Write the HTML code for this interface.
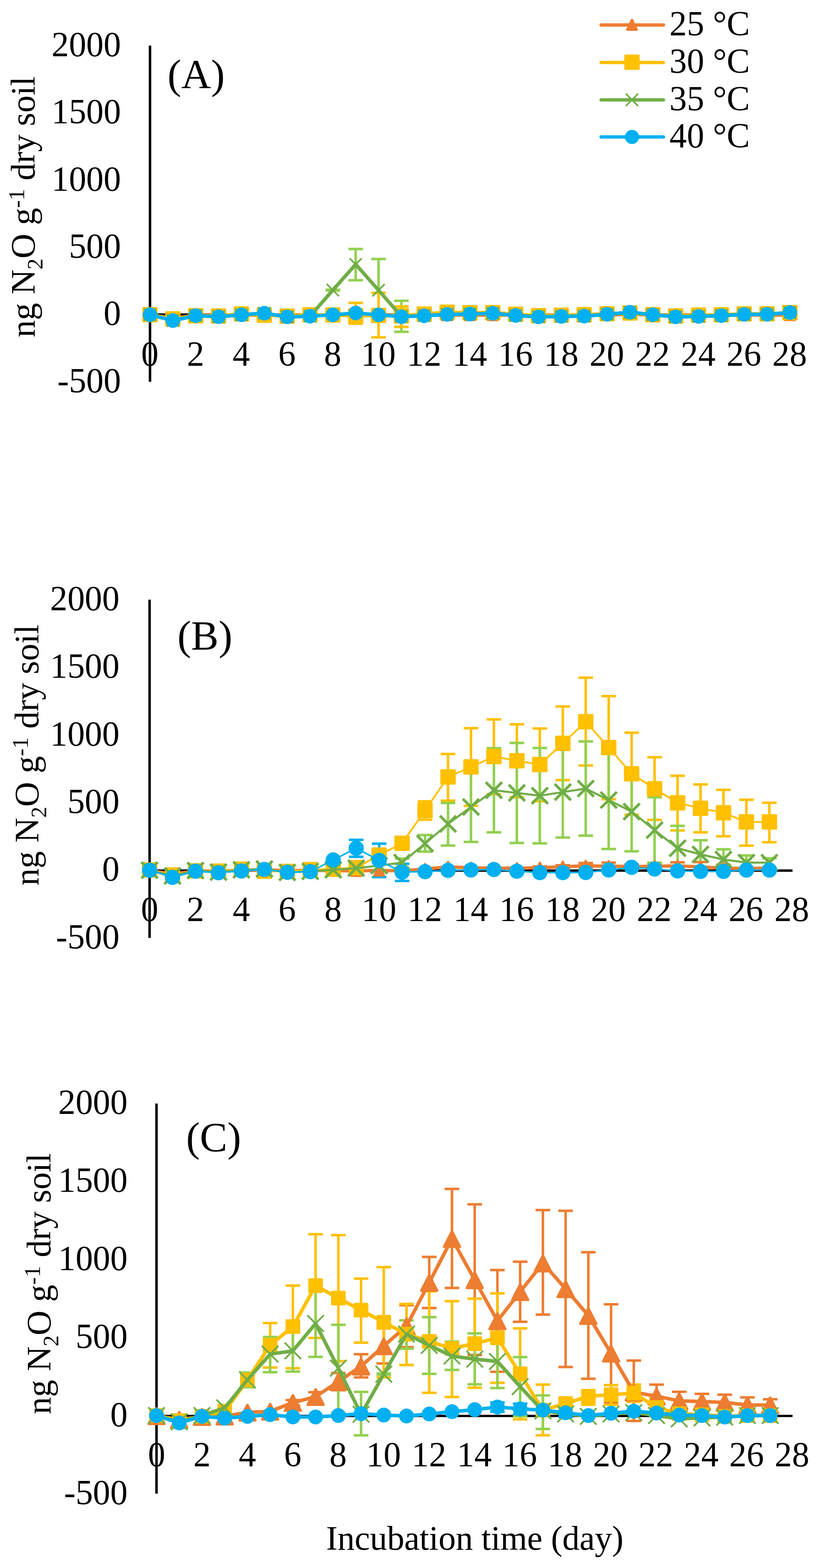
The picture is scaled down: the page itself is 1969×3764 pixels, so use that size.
<!DOCTYPE html>
<html lang="en">
<head>
<meta charset="utf-8">
<title>N2O emission during incubation</title>
<style>
html,body{margin:0;padding:0;background:#fff}
body{width:1969px;height:3764px;overflow:hidden}
svg{display:block}
</style>
</head>
<body>
<svg width="1969" height="3764" viewBox="0 0 1969 3764" font-family='"Liberation Serif", "DejaVu Serif", serif' fill="#000">
<rect width="1969" height="3764" fill="#fff"/>
<g>
<line x1="360.2" y1="109.5" x2="360.2" y2="916.6" stroke="#000" stroke-width="6"/>
<line x1="360.2" y1="755.2" x2="1897" y2="755.2" stroke="#000" stroke-width="5.7"/>
<path d="M799.2 695.4V697.4M781.7 695.4H816.7M781.7 697.4H816.7M854.1 597.8V672.8M836.6 597.8H871.6M836.6 672.8H871.6M909 621.8V771.8M891.5 621.8H926.5M891.5 771.8H926.5M963.8 722V796.5M946.3 722H981.3M946.3 796.5H981.3" fill="none" stroke="#92D050" stroke-width="6"/>
<path d="M854.1 726.9V777M836.6 726.9H871.6M836.6 777H871.6M909 703.1V809.7M891.5 703.1H926.5M891.5 809.7H926.5M963.8 735.8V784.8M946.3 735.8H981.3M946.3 784.8H981.3" fill="none" stroke="#FFC000" stroke-width="6"/>
<polyline points="360.2,756.5 415.1,765 469.9,756.5 524.8,756.5 579.7,756.5 634.6,756.5 689.5,756.5 744.3,756.5 799.2,756.5 854.1,756.5 909,756.5 963.8,756.5 1018.7,756.5 1073.6,756.5 1128.5,756.5 1183.3,756.5 1238.2,756.5 1293.1,756.5 1348,756.5 1402.8,756.5 1457.7,756.5 1512.6,754.3 1567.5,756.5 1622.3,756.5 1677.2,756.5 1732.1,756.5 1787,756.5 1841.8,756.5 1896.7,756.5" fill="none" stroke="#ED7D31" stroke-width="8" stroke-linejoin="round" stroke-linecap="round"/>
<path d="M360.2 744.5L371.8 768.5L348.6 768.5ZM415.1 753L426.7 777L403.5 777ZM469.9 744.5L481.6 768.5L458.3 768.5ZM524.8 744.5L536.4 768.5L513.2 768.5ZM579.7 744.5L591.3 768.5L568.1 768.5ZM634.6 744.5L646.2 768.5L623 768.5ZM689.5 744.5L701.1 768.5L677.8 768.5ZM744.3 744.5L755.9 768.5L732.7 768.5ZM799.2 744.5L810.8 768.5L787.6 768.5ZM854.1 744.5L865.7 768.5L842.5 768.5ZM909 744.5L920.6 768.5L897.3 768.5ZM963.8 744.5L975.4 768.5L952.2 768.5ZM1018.7 744.5L1030.3 768.5L1007.1 768.5ZM1073.6 744.5L1085.2 768.5L1062 768.5ZM1128.5 744.5L1140.1 768.5L1116.8 768.5ZM1183.3 744.5L1194.9 768.5L1171.7 768.5ZM1238.2 744.5L1249.8 768.5L1226.6 768.5ZM1293.1 744.5L1304.7 768.5L1281.5 768.5ZM1348 744.5L1359.6 768.5L1336.3 768.5ZM1402.8 744.5L1414.4 768.5L1391.2 768.5ZM1457.7 744.5L1469.3 768.5L1446.1 768.5ZM1512.6 742.2L1524.2 766.3L1501 766.3ZM1567.5 744.5L1579.1 768.5L1555.8 768.5ZM1622.3 744.5L1633.9 768.5L1610.7 768.5ZM1677.2 744.5L1688.8 768.5L1665.6 768.5ZM1732.1 744.5L1743.7 768.5L1720.5 768.5ZM1787 744.5L1798.6 768.5L1775.3 768.5ZM1841.8 744.5L1853.4 768.5L1830.2 768.5ZM1896.7 744.5L1908.3 768.5L1885.1 768.5Z" fill="#ED7D31" stroke="#ED7D31" stroke-width="5.2" stroke-linejoin="round"/>
<polyline points="360.2,755.3 415.1,765.5 469.9,758 524.8,758.6 579.7,753.6 634.6,756.6 689.5,758.8 744.3,755.7 799.2,756.2 854.1,758 909,757.1 963.8,758 1018.7,753.8 1073.6,749.5 1128.5,750.7 1183.3,750.5 1238.2,754.4 1293.1,757.7 1348,756.6 1402.8,755.5 1457.7,753.2 1512.6,751.4 1567.5,755.5 1622.3,758.5 1677.2,756.4 1732.1,755.7 1787,753.4 1841.8,753.4 1896.7,750.5" fill="none" stroke="#FFC000" stroke-width="8.5" stroke-linejoin="round" stroke-linecap="round"/>
<rect x="341.8" y="736.9" width="36.8" height="36.8" rx="2.5" fill="#FFC000"/>
<rect x="396.7" y="747.1" width="36.8" height="36.8" rx="2.5" fill="#FFC000"/>
<rect x="451.6" y="739.6" width="36.8" height="36.8" rx="2.5" fill="#FFC000"/>
<rect x="506.4" y="740.2" width="36.8" height="36.8" rx="2.5" fill="#FFC000"/>
<rect x="561.3" y="735.2" width="36.8" height="36.8" rx="2.5" fill="#FFC000"/>
<rect x="616.2" y="738.2" width="36.8" height="36.8" rx="2.5" fill="#FFC000"/>
<rect x="671.1" y="740.4" width="36.8" height="36.8" rx="2.5" fill="#FFC000"/>
<rect x="725.9" y="737.3" width="36.8" height="36.8" rx="2.5" fill="#FFC000"/>
<rect x="780.8" y="737.8" width="36.8" height="36.8" rx="2.5" fill="#FFC000"/>
<rect x="835.7" y="739.6" width="36.8" height="36.8" rx="2.5" fill="#FFC000"/>
<rect x="890.6" y="738.7" width="36.8" height="36.8" rx="2.5" fill="#FFC000"/>
<rect x="945.4" y="739.6" width="36.8" height="36.8" rx="2.5" fill="#FFC000"/>
<rect x="1000.3" y="735.4" width="36.8" height="36.8" rx="2.5" fill="#FFC000"/>
<rect x="1055.2" y="731.1" width="36.8" height="36.8" rx="2.5" fill="#FFC000"/>
<rect x="1110" y="732.3" width="36.8" height="36.8" rx="2.5" fill="#FFC000"/>
<rect x="1164.9" y="732.1" width="36.8" height="36.8" rx="2.5" fill="#FFC000"/>
<rect x="1219.8" y="736" width="36.8" height="36.8" rx="2.5" fill="#FFC000"/>
<rect x="1274.7" y="739.3" width="36.8" height="36.8" rx="2.5" fill="#FFC000"/>
<rect x="1329.5" y="738.2" width="36.8" height="36.8" rx="2.5" fill="#FFC000"/>
<rect x="1384.4" y="737.1" width="36.8" height="36.8" rx="2.5" fill="#FFC000"/>
<rect x="1439.3" y="734.8" width="36.8" height="36.8" rx="2.5" fill="#FFC000"/>
<rect x="1494.2" y="733" width="36.8" height="36.8" rx="2.5" fill="#FFC000"/>
<rect x="1549" y="737.1" width="36.8" height="36.8" rx="2.5" fill="#FFC000"/>
<rect x="1603.9" y="740.1" width="36.8" height="36.8" rx="2.5" fill="#FFC000"/>
<rect x="1658.8" y="738" width="36.8" height="36.8" rx="2.5" fill="#FFC000"/>
<rect x="1713.7" y="737.3" width="36.8" height="36.8" rx="2.5" fill="#FFC000"/>
<rect x="1768.5" y="735" width="36.8" height="36.8" rx="2.5" fill="#FFC000"/>
<rect x="1823.4" y="735" width="36.8" height="36.8" rx="2.5" fill="#FFC000"/>
<rect x="1878.3" y="732.1" width="36.8" height="36.8" rx="2.5" fill="#FFC000"/>
<polyline points="360.2,755.5 415.1,769.6 469.9,757.7 524.8,760.3 579.7,755.8 634.6,751.8 689.5,760.7 744.3,759.2 799.2,696.4 854.1,634.5 909,696.8 963.8,759.3 1018.7,758 1073.6,754.7 1128.5,754 1183.3,752.1 1238.2,757.3 1293.1,760.7 1348,759.6 1402.8,758.8 1457.7,754.4 1512.6,749.5 1567.5,755.5 1622.3,760.7 1677.2,759.6 1732.1,757.7 1787,754.7 1841.8,754.4 1896.7,750.3" fill="none" stroke="#70AD47" stroke-width="8.5" stroke-linejoin="round" stroke-linecap="round"/>
<path d="M345.4 740.8L374.9 770.2M345.4 770.2L374.9 740.8M400.3 754.9L429.8 784.4M400.3 784.4L429.8 754.9M455.2 743L484.7 772.5M455.2 772.5L484.7 743M510.1 745.5L539.6 775M510.1 775L539.6 745.5M565 741L594.5 770.5M565 770.5L594.5 741M619.8 737L649.3 766.5M619.8 766.5L649.3 737M674.7 746L704.2 775.5M674.7 775.5L704.2 746M729.6 744.5L759.1 774M729.6 774L759.1 744.5M784.5 681.6L814 711.1M784.5 711.1L814 681.6M839.3 619.8L868.8 649.2M839.3 649.2L868.8 619.8M894.2 682L923.7 711.5M894.2 711.5L923.7 682M949.1 744.5L978.6 774M949.1 774L978.6 744.5M1004 743.2L1033.5 772.8M1004 772.8L1033.5 743.2M1058.8 740L1088.3 769.5M1058.8 769.5L1088.3 740M1113.7 739.2L1143.2 768.8M1113.7 768.8L1143.2 739.2M1168.6 737.4L1198.1 766.9M1168.6 766.9L1198.1 737.4M1223.5 742.5L1253 772M1223.5 772L1253 742.5M1278.3 746L1307.8 775.5M1278.3 775.5L1307.8 746M1333.2 744.9L1362.7 774.4M1333.2 774.4L1362.7 744.9M1388.1 744L1417.6 773.5M1388.1 773.5L1417.6 744M1443 739.6L1472.5 769.1M1443 769.1L1472.5 739.6M1497.8 734.8L1527.3 764.2M1497.8 764.2L1527.3 734.8M1552.7 740.8L1582.2 770.2M1552.7 770.2L1582.2 740.8M1607.6 746L1637.1 775.5M1607.6 775.5L1637.1 746M1662.5 744.9L1692 774.4M1662.5 774.4L1692 744.9M1717.3 743L1746.8 772.5M1717.3 772.5L1746.8 743M1772.2 740L1801.7 769.5M1772.2 769.5L1801.7 740M1827.1 739.6L1856.6 769.1M1827.1 769.1L1856.6 739.6M1882 735.5L1911.5 765M1882 765L1911.5 735.5" fill="none" stroke="#70AD47" stroke-width="4"/>
<polyline points="360.2,755.5 415.1,769.6 469.9,757.7 524.8,760.3 579.7,755.8 634.6,751.8 689.5,760.7 744.3,759.2 799.2,755.8 854.1,751.4 909,755.8 963.8,760.3 1018.7,758 1073.6,754.7 1128.5,754 1183.3,752.1 1238.2,757.3 1293.1,760.7 1348,759.6 1402.8,758.8 1457.7,754.4 1512.6,749.5 1567.5,755.5 1622.3,760.7 1677.2,759.6 1732.1,757.7 1787,754.7 1841.8,754.4 1896.7,750.3" fill="none" stroke="#00B0F0" stroke-width="8.5" stroke-linejoin="round" stroke-linecap="round"/>
<circle cx="360.2" cy="755.5" r="17.5" fill="#00B0F0"/>
<circle cx="415.1" cy="769.6" r="17.5" fill="#00B0F0"/>
<circle cx="469.9" cy="757.7" r="17.5" fill="#00B0F0"/>
<circle cx="524.8" cy="760.3" r="17.5" fill="#00B0F0"/>
<circle cx="579.7" cy="755.8" r="17.5" fill="#00B0F0"/>
<circle cx="634.6" cy="751.8" r="17.5" fill="#00B0F0"/>
<circle cx="689.5" cy="760.7" r="17.5" fill="#00B0F0"/>
<circle cx="744.3" cy="759.2" r="17.5" fill="#00B0F0"/>
<circle cx="799.2" cy="755.8" r="17.5" fill="#00B0F0"/>
<circle cx="854.1" cy="751.4" r="17.5" fill="#00B0F0"/>
<circle cx="909" cy="755.8" r="17.5" fill="#00B0F0"/>
<circle cx="963.8" cy="760.3" r="17.5" fill="#00B0F0"/>
<circle cx="1018.7" cy="758" r="17.5" fill="#00B0F0"/>
<circle cx="1073.6" cy="754.7" r="17.5" fill="#00B0F0"/>
<circle cx="1128.5" cy="754" r="17.5" fill="#00B0F0"/>
<circle cx="1183.3" cy="752.1" r="17.5" fill="#00B0F0"/>
<circle cx="1238.2" cy="757.3" r="17.5" fill="#00B0F0"/>
<circle cx="1293.1" cy="760.7" r="17.5" fill="#00B0F0"/>
<circle cx="1348" cy="759.6" r="17.5" fill="#00B0F0"/>
<circle cx="1402.8" cy="758.8" r="17.5" fill="#00B0F0"/>
<circle cx="1457.7" cy="754.4" r="17.5" fill="#00B0F0"/>
<circle cx="1512.6" cy="749.5" r="17.5" fill="#00B0F0"/>
<circle cx="1567.5" cy="755.5" r="17.5" fill="#00B0F0"/>
<circle cx="1622.3" cy="760.7" r="17.5" fill="#00B0F0"/>
<circle cx="1677.2" cy="759.6" r="17.5" fill="#00B0F0"/>
<circle cx="1732.1" cy="757.7" r="17.5" fill="#00B0F0"/>
<circle cx="1787" cy="754.7" r="17.5" fill="#00B0F0"/>
<circle cx="1841.8" cy="754.4" r="17.5" fill="#00B0F0"/>
<circle cx="1896.7" cy="750.3" r="17.5" fill="#00B0F0"/>
</g>
<g>
<line x1="359.2" y1="1439.6" x2="359.2" y2="2251.5" stroke="#000" stroke-width="6"/>
<line x1="359.2" y1="2089.8" x2="1903" y2="2089.8" stroke="#000" stroke-width="5.7"/>
<path d="M1296.2 2080V2086M1278.7 2080H1313.7M1278.7 2086H1313.7M1351.4 2077V2084.2M1333.9 2077H1368.9M1333.9 2084.2H1368.9M1406.5 2071.8V2085.2M1389 2071.8H1424M1389 2085.2H1424M1461.6 2070.8V2087.8M1444.1 2070.8H1479.1M1444.1 2087.8H1479.1M1516.7 2075V2085M1499.2 2075H1534.2M1499.2 2085H1534.2M1571.8 2072V2087.2M1554.3 2072H1589.3M1554.3 2087.2H1589.3M1627 2069.9V2087.1M1609.5 2069.9H1644.5M1609.5 2087.1H1644.5M1682.1 2069.2V2092.8M1664.6 2069.2H1699.6M1664.6 2092.8H1699.6M1737.2 2076V2092M1719.7 2076H1754.7M1719.7 2092H1754.7" fill="none" stroke="#ED7D31" stroke-width="6"/>
<path d="M1020.6 1923.7V1967.7M1003.1 1923.7H1038.1M1003.1 1967.7H1038.1M1075.8 1810V1922M1058.3 1810H1093.3M1058.3 1922H1093.3M1130.9 1748V1934.6M1113.4 1748H1148.4M1113.4 1934.6H1148.4M1186 1726.9V1906.4M1168.5 1726.9H1203.5M1168.5 1906.4H1203.5M1241.1 1738.8V1913.8M1223.6 1738.8H1258.6M1223.6 1913.8H1258.6M1296.2 1748.8V1923.5M1278.7 1748.8H1313.7M1278.7 1923.5H1313.7M1351.4 1696.1V1872.7M1333.9 1696.1H1368.9M1333.9 1872.7H1368.9M1406.5 1626.7V1837.4M1389 1626.7H1424M1389 1837.4H1424M1461.6 1670.9V1918.6M1444.1 1670.9H1479.1M1444.1 1918.6H1479.1M1516.7 1758.8V1955.7M1499.2 1758.8H1534.2M1499.2 1955.7H1534.2M1571.8 1817.8V1967.9M1554.3 1817.8H1589.3M1554.3 1967.9H1589.3M1627 1862.2V1993.5M1609.5 1862.2H1644.5M1609.5 1993.5H1644.5M1682.1 1883V1998M1664.6 1883H1699.6M1664.6 1998H1699.6M1737.2 1896V2007.6M1719.7 1896H1754.7M1719.7 2007.6H1754.7M1792.3 1919.7V2029.9M1774.8 1919.7H1809.8M1774.8 2029.9H1809.8M1847.4 1927.1V2021.7M1829.9 1927.1H1864.9M1829.9 2021.7H1864.9" fill="none" stroke="#FFC000" stroke-width="6"/>
<path d="M965.5 2060.9V2082.4M948 2060.9H983M948 2082.4H983M1020.6 2004.5V2044.2M1003.1 2004.5H1038.1M1003.1 2044.2H1038.1M1075.8 1927.6V2029.7M1058.3 1927.6H1093.3M1058.3 2029.7H1093.3M1130.9 1853.5V2020.9M1113.4 1853.5H1148.4M1113.4 2020.9H1148.4M1186 1795.9V1997.9M1168.5 1795.9H1203.5M1168.5 1997.9H1203.5M1241.1 1783.6V2023.5M1223.6 1783.6H1258.6M1223.6 2023.5H1258.6M1296.2 1795.5V2024.6M1278.7 1795.5H1313.7M1278.7 2024.6H1313.7M1351.4 1792.3V2010.5M1333.9 1792.3H1368.9M1333.9 2010.5H1368.9M1406.5 1779.8V2006.1M1389 1779.8H1424M1389 2006.1H1424M1461.6 1803.7V2038M1444.1 1803.7H1479.1M1444.1 2038H1479.1M1516.7 1852.8V2043.6M1499.2 1852.8H1534.2M1499.2 2043.6H1534.2M1571.8 1913.8V2071M1554.3 1913.8H1589.3M1554.3 2071H1589.3M1627 1982.4V2090M1609.5 1982.4H1644.5M1609.5 2090H1644.5M1682.1 2016.9V2085M1664.6 2016.9H1699.6M1664.6 2085H1699.6M1737.2 2038.8V2087.8M1719.7 2038.8H1754.7M1719.7 2087.8H1754.7M1792.3 2053.6V2087.8M1774.8 2053.6H1809.8M1774.8 2087.8H1809.8M1847.4 2060.3V2082.6M1829.9 2060.3H1864.9M1829.9 2082.6H1864.9" fill="none" stroke="#92D050" stroke-width="6"/>
<path d="M855.3 2016V2056.8M837.8 2016H872.8M837.8 2056.8H872.8M910.4 2025.3V2105.4M892.9 2025.3H927.9M892.9 2105.4H927.9M965.5 2073.5V2114.7M948 2073.5H983M948 2114.7H983" fill="none" stroke="#00B0F0" stroke-width="6"/>
<polyline points="359.2,2090 414.3,2098 469.4,2091 524.6,2091 579.7,2089 634.8,2088 689.9,2090 745,2089 800.2,2090 855.3,2090.6 910.4,2089.6 965.5,2090.6 1020.6,2086 1075.8,2081 1130.9,2083 1186,2084.3 1241.1,2084 1296.2,2083 1351.4,2080.6 1406.5,2078.5 1461.6,2079.3 1516.7,2080 1571.8,2079.6 1627,2078.5 1682.1,2081 1737.2,2084 1792.3,2084.5 1847.4,2084.3" fill="none" stroke="#ED7D31" stroke-width="8" stroke-linejoin="round" stroke-linecap="round"/>
<path d="M359.2 2077.9L370.8 2102.1L347.6 2102.1ZM414.3 2085.9L425.9 2110.1L402.7 2110.1ZM469.4 2078.9L481.1 2103.1L457.8 2103.1ZM524.6 2078.9L536.2 2103.1L512.9 2103.1ZM579.7 2076.9L591.3 2101.1L568.1 2101.1ZM634.8 2075.9L646.4 2100.1L623.2 2100.1ZM689.9 2077.9L701.5 2102.1L678.3 2102.1ZM745 2076.9L756.7 2101.1L733.4 2101.1ZM800.2 2077.9L811.8 2102.1L788.5 2102.1ZM855.3 2078.5L866.9 2102.7L843.7 2102.7ZM910.4 2077.5L922 2101.7L898.8 2101.7ZM965.5 2078.5L977.1 2102.7L953.9 2102.7ZM1020.6 2073.9L1032.3 2098.1L1009 2098.1ZM1075.8 2068.9L1087.4 2093.1L1064.1 2093.1ZM1130.9 2070.9L1142.5 2095.1L1119.3 2095.1ZM1186 2072.2L1197.6 2096.4L1174.4 2096.4ZM1241.1 2071.9L1252.7 2096.1L1229.5 2096.1ZM1296.2 2070.9L1307.9 2095.1L1284.6 2095.1ZM1351.4 2068.5L1363 2092.7L1339.7 2092.7ZM1406.5 2066.4L1418.1 2090.6L1394.9 2090.6ZM1461.6 2067.2L1473.2 2091.4L1450 2091.4ZM1516.7 2067.9L1528.3 2092.1L1505.1 2092.1ZM1571.8 2067.5L1583.5 2091.7L1560.2 2091.7ZM1627 2066.4L1638.6 2090.6L1615.3 2090.6ZM1682.1 2068.9L1693.7 2093.1L1670.5 2093.1ZM1737.2 2071.9L1748.8 2096.1L1725.6 2096.1ZM1792.3 2072.4L1803.9 2096.6L1780.7 2096.6ZM1847.4 2072.2L1859.1 2096.4L1835.8 2096.4Z" fill="#ED7D31" stroke="#ED7D31" stroke-width="5.2" stroke-linejoin="round"/>
<polyline points="359.2,2088.3 414.3,2100.6 469.4,2090.6 524.6,2091.3 579.7,2086.5 634.8,2091.3 689.9,2092 745,2087.6 800.2,2086 855.3,2083 910.4,2052.7 965.5,2024.2 1020.6,1945.5 1075.8,1864.9 1130.9,1841.1 1186,1815.9 1241.1,1826.3 1296.2,1835.2 1351.4,1784.4 1406.5,1732.4 1461.6,1794.4 1516.7,1857.4 1571.8,1893.4 1627,1927.2 1682.1,1940.3 1737.2,1951 1792.3,1973.1 1847.4,1973.1" fill="none" stroke="#FFC000" stroke-width="4.3" stroke-linejoin="round" stroke-linecap="round"/>
<rect x="340.7" y="2069.8" width="37" height="37" rx="2.5" fill="#FFC000"/>
<rect x="395.8" y="2082.1" width="37" height="37" rx="2.5" fill="#FFC000"/>
<rect x="450.9" y="2072.1" width="37" height="37" rx="2.5" fill="#FFC000"/>
<rect x="506.1" y="2072.8" width="37" height="37" rx="2.5" fill="#FFC000"/>
<rect x="561.2" y="2068" width="37" height="37" rx="2.5" fill="#FFC000"/>
<rect x="616.3" y="2072.8" width="37" height="37" rx="2.5" fill="#FFC000"/>
<rect x="671.4" y="2073.5" width="37" height="37" rx="2.5" fill="#FFC000"/>
<rect x="726.5" y="2069.1" width="37" height="37" rx="2.5" fill="#FFC000"/>
<rect x="781.7" y="2067.5" width="37" height="37" rx="2.5" fill="#FFC000"/>
<rect x="836.8" y="2064.5" width="37" height="37" rx="2.5" fill="#FFC000"/>
<rect x="891.9" y="2034.2" width="37" height="37" rx="2.5" fill="#FFC000"/>
<rect x="947" y="2005.7" width="37" height="37" rx="2.5" fill="#FFC000"/>
<rect x="1002.1" y="1927" width="37" height="37" rx="2.5" fill="#FFC000"/>
<rect x="1057.3" y="1846.4" width="37" height="37" rx="2.5" fill="#FFC000"/>
<rect x="1112.4" y="1822.6" width="37" height="37" rx="2.5" fill="#FFC000"/>
<rect x="1167.5" y="1797.4" width="37" height="37" rx="2.5" fill="#FFC000"/>
<rect x="1222.6" y="1807.8" width="37" height="37" rx="2.5" fill="#FFC000"/>
<rect x="1277.7" y="1816.7" width="37" height="37" rx="2.5" fill="#FFC000"/>
<rect x="1332.9" y="1765.9" width="37" height="37" rx="2.5" fill="#FFC000"/>
<rect x="1388" y="1713.9" width="37" height="37" rx="2.5" fill="#FFC000"/>
<rect x="1443.1" y="1775.9" width="37" height="37" rx="2.5" fill="#FFC000"/>
<rect x="1498.2" y="1838.9" width="37" height="37" rx="2.5" fill="#FFC000"/>
<rect x="1553.3" y="1874.9" width="37" height="37" rx="2.5" fill="#FFC000"/>
<rect x="1608.5" y="1908.7" width="37" height="37" rx="2.5" fill="#FFC000"/>
<rect x="1663.6" y="1921.8" width="37" height="37" rx="2.5" fill="#FFC000"/>
<rect x="1718.7" y="1932.5" width="37" height="37" rx="2.5" fill="#FFC000"/>
<rect x="1773.8" y="1954.6" width="37" height="37" rx="2.5" fill="#FFC000"/>
<rect x="1828.9" y="1954.6" width="37" height="37" rx="2.5" fill="#FFC000"/>
<polyline points="359.2,2089 414.3,2102.8 469.4,2089.8 524.6,2093.5 579.7,2088 634.8,2086 689.9,2094.3 745,2091.7 800.2,2088 855.3,2084 910.4,2078 965.5,2070.5 1020.6,2024.9 1075.8,1977.8 1130.9,1937.2 1186,1897.1 1241.1,1903.4 1296.2,1910.1 1351.4,1901.4 1406.5,1893 1461.6,1920.5 1516.7,1948.2 1571.8,1992.8 1627,2036.2 1682.1,2051 1737.2,2063.3 1792.3,2070.7 1847.4,2070.7" fill="none" stroke="#70AD47" stroke-width="5" stroke-linejoin="round" stroke-linecap="round"/>
<path d="M339.7 2069.5L378.7 2108.5M339.7 2108.5L378.7 2069.5M394.8 2083.3L433.8 2122.3M394.8 2122.3L433.8 2083.3M449.9 2070.3L488.9 2109.3M449.9 2109.3L488.9 2070.3M505.1 2074L544.1 2113M505.1 2113L544.1 2074M560.2 2068.5L599.2 2107.5M560.2 2107.5L599.2 2068.5M615.3 2066.5L654.3 2105.5M615.3 2105.5L654.3 2066.5M670.4 2074.8L709.4 2113.8M670.4 2113.8L709.4 2074.8M725.5 2072.2L764.5 2111.2M725.5 2111.2L764.5 2072.2M780.7 2068.5L819.7 2107.5M780.7 2107.5L819.7 2068.5M835.8 2064.5L874.8 2103.5M835.8 2103.5L874.8 2064.5M890.9 2058.5L929.9 2097.5M890.9 2097.5L929.9 2058.5M946 2051L985 2090M946 2090L985 2051M1001.1 2005.4L1040.1 2044.4M1001.1 2044.4L1040.1 2005.4M1056.3 1958.3L1095.3 1997.3M1056.3 1997.3L1095.3 1958.3M1111.4 1917.7L1150.4 1956.7M1111.4 1956.7L1150.4 1917.7M1166.5 1877.6L1205.5 1916.6M1166.5 1916.6L1205.5 1877.6M1221.6 1883.9L1260.6 1922.9M1221.6 1922.9L1260.6 1883.9M1276.7 1890.6L1315.7 1929.6M1276.7 1929.6L1315.7 1890.6M1331.9 1881.9L1370.9 1920.9M1331.9 1920.9L1370.9 1881.9M1387 1873.5L1426 1912.5M1387 1912.5L1426 1873.5M1442.1 1901L1481.1 1940M1442.1 1940L1481.1 1901M1497.2 1928.7L1536.2 1967.7M1497.2 1967.7L1536.2 1928.7M1552.3 1973.3L1591.3 2012.3M1552.3 2012.3L1591.3 1973.3M1607.5 2016.7L1646.5 2055.7M1607.5 2055.7L1646.5 2016.7M1662.6 2031.5L1701.6 2070.5M1662.6 2070.5L1701.6 2031.5M1717.7 2043.8L1756.7 2082.8M1717.7 2082.8L1756.7 2043.8M1772.8 2051.2L1811.8 2090.2M1772.8 2090.2L1811.8 2051.2M1827.9 2051.2L1866.9 2090.2M1827.9 2090.2L1866.9 2051.2" fill="none" stroke="#70AD47" stroke-width="6.5"/>
<polyline points="359.2,2089.1 414.3,2106.1 469.4,2091.3 524.6,2095 579.7,2090.9 634.8,2087.2 689.9,2093.9 745,2092.4 800.2,2064.4 855.3,2036 910.4,2065.3 965.5,2093.5 1020.6,2092.4 1075.8,2089.4 1130.9,2088.3 1186,2087.3 1241.1,2091.4 1296.2,2094.7 1351.4,2094.7 1406.5,2094.4 1461.6,2088.4 1516.7,2082 1571.8,2086 1627,2090.7 1682.1,2091.8 1737.2,2091.8 1792.3,2088.5 1847.4,2088.5" fill="none" stroke="#00B0F0" stroke-width="3.7" stroke-linejoin="round" stroke-linecap="round"/>
<circle cx="359.2" cy="2089.1" r="18.3" fill="#00B0F0"/>
<circle cx="414.3" cy="2106.1" r="18.3" fill="#00B0F0"/>
<circle cx="469.4" cy="2091.3" r="18.3" fill="#00B0F0"/>
<circle cx="524.6" cy="2095" r="18.3" fill="#00B0F0"/>
<circle cx="579.7" cy="2090.9" r="18.3" fill="#00B0F0"/>
<circle cx="634.8" cy="2087.2" r="18.3" fill="#00B0F0"/>
<circle cx="689.9" cy="2093.9" r="18.3" fill="#00B0F0"/>
<circle cx="745" cy="2092.4" r="18.3" fill="#00B0F0"/>
<circle cx="800.2" cy="2064.4" r="18.3" fill="#00B0F0"/>
<circle cx="855.3" cy="2036" r="18.3" fill="#00B0F0"/>
<circle cx="910.4" cy="2065.3" r="18.3" fill="#00B0F0"/>
<circle cx="965.5" cy="2093.5" r="18.3" fill="#00B0F0"/>
<circle cx="1020.6" cy="2092.4" r="18.3" fill="#00B0F0"/>
<circle cx="1075.8" cy="2089.4" r="18.3" fill="#00B0F0"/>
<circle cx="1130.9" cy="2088.3" r="18.3" fill="#00B0F0"/>
<circle cx="1186" cy="2087.3" r="18.3" fill="#00B0F0"/>
<circle cx="1241.1" cy="2091.4" r="18.3" fill="#00B0F0"/>
<circle cx="1296.2" cy="2094.7" r="18.3" fill="#00B0F0"/>
<circle cx="1351.4" cy="2094.7" r="18.3" fill="#00B0F0"/>
<circle cx="1406.5" cy="2094.4" r="18.3" fill="#00B0F0"/>
<circle cx="1461.6" cy="2088.4" r="18.3" fill="#00B0F0"/>
<circle cx="1516.7" cy="2082" r="18.3" fill="#00B0F0"/>
<circle cx="1571.8" cy="2086" r="18.3" fill="#00B0F0"/>
<circle cx="1627" cy="2090.7" r="18.3" fill="#00B0F0"/>
<circle cx="1682.1" cy="2091.8" r="18.3" fill="#00B0F0"/>
<circle cx="1737.2" cy="2091.8" r="18.3" fill="#00B0F0"/>
<circle cx="1792.3" cy="2088.5" r="18.3" fill="#00B0F0"/>
<circle cx="1847.4" cy="2088.5" r="18.3" fill="#00B0F0"/>
</g>
<g>
<line x1="375.8" y1="2649" x2="375.8" y2="3585.5" stroke="#000" stroke-width="6"/>
<line x1="375.8" y1="3399" x2="1903" y2="3399" stroke="#000" stroke-width="5.7"/>
<path d="M703.2 3361.1V3374.2M685.8 3361.1H720.8M685.8 3374.2H720.8M757.8 3342.1V3363.5M740.3 3342.1H775.3M740.3 3363.5H775.3M812.4 3296V3337.2M794.9 3296H829.9M794.9 3337.2H829.9M867 3250.8V3306.4M849.5 3250.8H884.5M849.5 3306.4H884.5M921.5 3189V3273M904 3189H939M904 3273H939M976.1 3133.3V3233.8M958.6 3133.3H993.6M958.6 3233.8H993.6M1030.7 3017.2V3139.9M1013.2 3017.2H1048.2M1013.2 3139.9H1048.2M1085.3 2854V3091.8M1067.8 2854H1102.8M1067.8 3091.8H1102.8M1139.9 2891.1V3252.8M1122.4 2891.1H1157.4M1122.4 3252.8H1157.4M1194.4 3048.7V3293.1M1176.9 3048.7H1211.9M1176.9 3293.1H1211.9M1249 3028.8V3173M1231.5 3028.8H1266.5M1231.5 3173H1266.5M1303.6 2904.8V3155.7M1286.1 2904.8H1321.1M1286.1 3155.7H1321.1M1358.2 2906.6V3281.6M1340.7 2906.6H1375.7M1340.7 3281.6H1375.7M1412.7 3006V3309.7M1395.2 3006H1430.2M1395.2 3309.7H1430.2M1467.3 3131V3366M1449.8 3131H1484.8M1449.8 3366H1484.8M1521.9 3266V3411M1504.4 3266H1539.4M1504.4 3411H1539.4M1576.5 3323.8V3379.6M1559 3323.8H1594M1559 3379.6H1594M1631 3340.9V3384.7M1613.5 3340.9H1648.5M1613.5 3384.7H1648.5M1685.6 3346.1V3383.1M1668.1 3346.1H1703.1M1668.1 3383.1H1703.1M1740.2 3348V3385M1722.7 3348H1757.7M1722.7 3385H1757.7M1794.8 3354.6V3391M1777.2 3354.6H1812.2M1777.2 3391H1812.2M1849.3 3359.1V3386.5M1831.8 3359.1H1866.8M1831.8 3386.5H1866.8" fill="none" stroke="#ED7D31" stroke-width="6"/>
<path d="M648.7 3176V3282.7M631.2 3176H666.2M631.2 3282.7H666.2M703.2 3085.9V3284.6M685.8 3085.9H720.8M685.8 3284.6H720.8M757.8 2962.7V3211.8M740.3 2962.7H775.3M740.3 3211.8H775.3M812.4 2964.9V3267.5M794.9 2964.9H829.9M794.9 3267.5H829.9M867 3069.2V3223M849.5 3069.2H884.5M849.5 3223H884.5M921.5 3041.7V3306.4M904 3041.7H939M904 3306.4H939M976.1 3130.3V3276.7M958.6 3130.3H993.6M958.6 3276.7H993.6M1030.7 3099.8V3343.5M1013.2 3099.8H1048.2M1013.2 3343.5H1048.2M1085.3 3123.6V3353.5M1067.8 3123.6H1102.8M1067.8 3353.5H1102.8M1139.9 3117.5V3331.3M1122.4 3117.5H1157.4M1122.4 3331.3H1157.4M1194.4 3104.8V3319.4M1176.9 3104.8H1211.9M1176.9 3319.4H1211.9M1249 3188.7V3407.3M1231.5 3188.7H1266.5M1231.5 3407.3H1266.5M1303.6 3323.8V3445.5M1286.1 3323.8H1321.1M1286.1 3445.5H1321.1M1412.7 3340V3372M1395.2 3340H1430.2M1395.2 3372H1430.2M1467.3 3325V3372M1449.8 3325H1484.8M1449.8 3372H1484.8M1521.9 3323.6V3365M1504.4 3323.6H1539.4M1504.4 3365H1539.4M1576.5 3355.8V3400M1559 3355.8H1594M1559 3400H1594" fill="none" stroke="#FFC000" stroke-width="6"/>
<path d="M594.1 3294.8V3330M576.6 3294.8H611.6M576.6 3330H611.6M648.7 3209.6V3294.1M631.2 3209.6H666.2M631.2 3294.1H666.2M703.2 3192.9V3292.5M685.8 3192.9H720.8M685.8 3292.5H720.8M757.8 3097V3257.2M740.3 3097H775.3M740.3 3257.2H775.3M812.4 3180.2V3391.4M794.9 3180.2H829.9M794.9 3391.4H829.9M867 3341.3V3445.5M849.5 3341.3H884.5M849.5 3445.5H884.5M921.5 3297V3300M904 3297H939M904 3300H939M976.1 3169.6V3237.4M958.6 3169.6H993.6M958.6 3237.4H993.6M1030.7 3161.8V3297.9M1013.2 3161.8H1048.2M1013.2 3297.9H1048.2M1085.3 3220.5V3288.6M1067.8 3220.5H1102.8M1067.8 3288.6H1102.8M1139.9 3200.7V3323.1M1122.4 3200.7H1157.4M1122.4 3323.1H1157.4M1194.4 3202V3332M1176.9 3202H1211.9M1176.9 3332H1211.9M1249 3257.8V3400M1231.5 3257.8H1266.5M1231.5 3400H1266.5M1303.6 3349.8V3430.3M1286.1 3349.8H1321.1M1286.1 3430.3H1321.1" fill="none" stroke="#92D050" stroke-width="6"/>
<path d="M1194.4 3366.5V3388.7M1176.9 3366.5H1211.9M1176.9 3388.7H1211.9M1249 3369.5V3394.7M1231.5 3369.5H1266.5M1231.5 3394.7H1266.5M1358.2 3381V3401.8M1340.7 3381H1375.7M1340.7 3401.8H1375.7" fill="none" stroke="#00B0F0" stroke-width="6"/>
<polyline points="375.8,3398.8 430.4,3407.7 485,3400.7 539.5,3399.6 594.1,3390.3 648.7,3388 703.2,3367 757.8,3352.8 812.4,3316.6 867,3279.7 921.5,3231 976.1,3183.2 1030.7,3078.8 1085.3,2973.5 1139.9,3072.5 1194.4,3171 1249,3101 1303.6,3032.1 1358.2,3094 1412.7,3158.3 1467.3,3248.5 1521.9,3342 1576.5,3351.7 1631,3362.8 1685.6,3364.6 1740.2,3366.5 1794.8,3372.8 1849.3,3372.8" fill="none" stroke="#ED7D31" stroke-width="8.5" stroke-linejoin="round" stroke-linecap="round"/>
<path d="M375.8 3381.1L394.8 3418.1L356.8 3418.1ZM430.4 3390L449.4 3427L411.4 3427ZM485 3383L504 3420L466 3420ZM539.5 3381.9L558.5 3418.9L520.5 3418.9ZM594.1 3372.6L613.1 3409.6L575.1 3409.6ZM648.7 3370.3L667.7 3407.3L629.7 3407.3ZM703.2 3349.3L722.2 3386.3L684.2 3386.3ZM757.8 3335.1L776.8 3372.1L738.8 3372.1ZM812.4 3298.9L831.4 3335.9L793.4 3335.9ZM867 3262L886 3299L848 3299ZM921.5 3213.3L940.5 3250.3L902.5 3250.3ZM976.1 3165.5L995.1 3202.5L957.1 3202.5ZM1030.7 3061.1L1049.7 3098.1L1011.7 3098.1ZM1085.3 2955.8L1104.3 2992.8L1066.3 2992.8ZM1139.9 3054.8L1158.9 3091.8L1120.9 3091.8ZM1194.4 3153.3L1213.4 3190.3L1175.4 3190.3ZM1249 3083.3L1268 3120.3L1230 3120.3ZM1303.6 3014.4L1322.6 3051.4L1284.6 3051.4ZM1358.2 3076.3L1377.2 3113.3L1339.2 3113.3ZM1412.7 3140.6L1431.7 3177.6L1393.7 3177.6ZM1467.3 3230.8L1486.3 3267.8L1448.3 3267.8ZM1521.9 3324.3L1540.9 3361.3L1502.9 3361.3ZM1576.5 3334L1595.5 3371L1557.5 3371ZM1631 3345.1L1650 3382.1L1612 3382.1ZM1685.6 3346.9L1704.6 3383.9L1666.6 3383.9ZM1740.2 3348.8L1759.2 3385.8L1721.2 3385.8ZM1794.8 3355.1L1813.8 3392.1L1775.8 3392.1ZM1849.3 3355.1L1868.3 3392.1L1830.3 3392.1Z" fill="#ED7D31" stroke="#ED7D31" stroke-width="6" stroke-linejoin="round"/>
<polyline points="375.8,3398 430.4,3410 485,3400 539.5,3387.7 594.1,3312.4 648.7,3228.8 703.2,3184.6 757.8,3086.2 812.4,3116.2 867,3145.1 921.5,3174.2 976.1,3202.4 1030.7,3220 1085.3,3237 1139.9,3225.3 1194.4,3211.4 1249,3297.9 1303.6,3385 1358.2,3369.1 1412.7,3351.7 1467.3,3348 1521.9,3344.2 1576.5,3378.6 1631,3393.5 1685.6,3396.2 1740.2,3400 1794.8,3398 1849.3,3398" fill="none" stroke="#FFC000" stroke-width="8.5" stroke-linejoin="round" stroke-linecap="round"/>
<rect x="358.2" y="3380.4" width="35.1" height="35.1" rx="2.5" fill="#FFC000"/>
<rect x="412.8" y="3392.4" width="35.1" height="35.1" rx="2.5" fill="#FFC000"/>
<rect x="467.4" y="3382.4" width="35.1" height="35.1" rx="2.5" fill="#FFC000"/>
<rect x="522" y="3370.1" width="35.1" height="35.1" rx="2.5" fill="#FFC000"/>
<rect x="576.6" y="3294.8" width="35.1" height="35.1" rx="2.5" fill="#FFC000"/>
<rect x="631.1" y="3211.2" width="35.1" height="35.1" rx="2.5" fill="#FFC000"/>
<rect x="685.7" y="3167" width="35.1" height="35.1" rx="2.5" fill="#FFC000"/>
<rect x="740.3" y="3068.6" width="35.1" height="35.1" rx="2.5" fill="#FFC000"/>
<rect x="794.9" y="3098.6" width="35.1" height="35.1" rx="2.5" fill="#FFC000"/>
<rect x="849.4" y="3127.5" width="35.1" height="35.1" rx="2.5" fill="#FFC000"/>
<rect x="904" y="3156.6" width="35.1" height="35.1" rx="2.5" fill="#FFC000"/>
<rect x="958.6" y="3184.8" width="35.1" height="35.1" rx="2.5" fill="#FFC000"/>
<rect x="1013.2" y="3202.4" width="35.1" height="35.1" rx="2.5" fill="#FFC000"/>
<rect x="1067.7" y="3219.4" width="35.1" height="35.1" rx="2.5" fill="#FFC000"/>
<rect x="1122.3" y="3207.8" width="35.1" height="35.1" rx="2.5" fill="#FFC000"/>
<rect x="1176.9" y="3193.8" width="35.1" height="35.1" rx="2.5" fill="#FFC000"/>
<rect x="1231.5" y="3280.3" width="35.1" height="35.1" rx="2.5" fill="#FFC000"/>
<rect x="1286" y="3367.4" width="35.1" height="35.1" rx="2.5" fill="#FFC000"/>
<rect x="1340.6" y="3351.5" width="35.1" height="35.1" rx="2.5" fill="#FFC000"/>
<rect x="1395.2" y="3334.1" width="35.1" height="35.1" rx="2.5" fill="#FFC000"/>
<rect x="1449.8" y="3330.4" width="35.1" height="35.1" rx="2.5" fill="#FFC000"/>
<rect x="1504.3" y="3326.6" width="35.1" height="35.1" rx="2.5" fill="#FFC000"/>
<rect x="1558.9" y="3361" width="35.1" height="35.1" rx="2.5" fill="#FFC000"/>
<rect x="1613.5" y="3375.9" width="35.1" height="35.1" rx="2.5" fill="#FFC000"/>
<rect x="1668.1" y="3378.6" width="35.1" height="35.1" rx="2.5" fill="#FFC000"/>
<rect x="1722.6" y="3382.4" width="35.1" height="35.1" rx="2.5" fill="#FFC000"/>
<rect x="1777.2" y="3380.4" width="35.1" height="35.1" rx="2.5" fill="#FFC000"/>
<rect x="1831.8" y="3380.4" width="35.1" height="35.1" rx="2.5" fill="#FFC000"/>
<polyline points="375.8,3398 430.4,3413 485,3398 539.5,3379.6 594.1,3312.4 648.7,3250.6 703.2,3242.7 757.8,3177.1 812.4,3284.4 867,3395 921.5,3298.6 976.1,3202.5 1030.7,3229.6 1085.3,3255.2 1139.9,3262.6 1194.4,3268.2 1249,3328.7 1303.6,3387 1358.2,3394.3 1412.7,3400 1467.3,3394.3 1521.9,3391 1576.5,3398 1631,3406 1685.6,3403.6 1740.2,3401.7 1794.8,3398 1849.3,3398" fill="none" stroke="#70AD47" stroke-width="8.5" stroke-linejoin="round" stroke-linecap="round"/>
<path d="M356 3378.2L395.6 3417.8M356 3417.8L395.6 3378.2M410.6 3393.2L450.2 3432.8M410.6 3432.8L450.2 3393.2M465.2 3378.2L504.8 3417.8M465.2 3417.8L504.8 3378.2M519.7 3359.8L559.3 3399.4M519.7 3399.4L559.3 3359.8M574.3 3292.6L613.9 3332.2M574.3 3332.2L613.9 3292.6M628.9 3230.8L668.5 3270.4M628.9 3270.4L668.5 3230.8M683.5 3222.9L723 3262.5M683.5 3262.5L723 3222.9M738 3157.3L777.6 3196.9M738 3196.9L777.6 3157.3M792.6 3264.6L832.2 3304.2M792.6 3304.2L832.2 3264.6M847.2 3375.2L886.8 3414.8M847.2 3414.8L886.8 3375.2M901.8 3278.8L941.3 3318.4M901.8 3318.4L941.3 3278.8M956.3 3182.7L995.9 3222.3M956.3 3222.3L995.9 3182.7M1010.9 3209.8L1050.5 3249.4M1010.9 3249.4L1050.5 3209.8M1065.5 3235.4L1105.1 3275M1065.5 3275L1105.1 3235.4M1120.1 3242.8L1159.7 3282.4M1120.1 3282.4L1159.7 3242.8M1174.6 3248.4L1214.2 3288M1174.6 3288L1214.2 3248.4M1229.2 3308.9L1268.8 3348.5M1229.2 3348.5L1268.8 3308.9M1283.8 3367.2L1323.4 3406.8M1283.8 3406.8L1323.4 3367.2M1338.4 3374.5L1378 3414.1M1338.4 3414.1L1378 3374.5M1392.9 3380.2L1432.5 3419.8M1392.9 3419.8L1432.5 3380.2M1447.5 3374.5L1487.1 3414.1M1447.5 3414.1L1487.1 3374.5M1502.1 3371.2L1541.7 3410.8M1502.1 3410.8L1541.7 3371.2M1556.7 3378.2L1596.2 3417.8M1556.7 3417.8L1596.2 3378.2M1611.2 3386.2L1650.8 3425.8M1611.2 3425.8L1650.8 3386.2M1665.8 3383.8L1705.4 3423.4M1665.8 3423.4L1705.4 3383.8M1720.4 3381.9L1760 3421.5M1720.4 3421.5L1760 3381.9M1775 3378.2L1814.5 3417.8M1775 3417.8L1814.5 3378.2M1829.5 3378.2L1869.1 3417.8M1829.5 3417.8L1869.1 3378.2" fill="none" stroke="#70AD47" stroke-width="4.2"/>
<polyline points="375.8,3398.1 430.4,3415.9 485,3400 539.5,3404.4 594.1,3400 648.7,3395.9 703.2,3401.4 757.8,3401.5 812.4,3398 867,3393.6 921.5,3396.9 976.1,3399.1 1030.7,3394.3 1085.3,3388.8 1139.9,3383.9 1194.4,3377.6 1249,3382.1 1303.6,3385 1358.2,3391.4 1412.7,3398 1467.3,3392.5 1521.9,3387.6 1576.5,3392 1631,3396.9 1685.6,3398 1740.2,3401.7 1794.8,3398 1849.3,3398" fill="none" stroke="#00B0F0" stroke-width="8.5" stroke-linejoin="round" stroke-linecap="round"/>
<circle cx="375.8" cy="3398.1" r="17.8" fill="#00B0F0"/>
<circle cx="430.4" cy="3415.9" r="17.8" fill="#00B0F0"/>
<circle cx="485" cy="3400" r="17.8" fill="#00B0F0"/>
<circle cx="539.5" cy="3404.4" r="17.8" fill="#00B0F0"/>
<circle cx="594.1" cy="3400" r="17.8" fill="#00B0F0"/>
<circle cx="648.7" cy="3395.9" r="17.8" fill="#00B0F0"/>
<circle cx="703.2" cy="3401.4" r="17.8" fill="#00B0F0"/>
<circle cx="757.8" cy="3401.5" r="17.8" fill="#00B0F0"/>
<circle cx="812.4" cy="3398" r="17.8" fill="#00B0F0"/>
<circle cx="867" cy="3393.6" r="17.8" fill="#00B0F0"/>
<circle cx="921.5" cy="3396.9" r="17.8" fill="#00B0F0"/>
<circle cx="976.1" cy="3399.1" r="17.8" fill="#00B0F0"/>
<circle cx="1030.7" cy="3394.3" r="17.8" fill="#00B0F0"/>
<circle cx="1085.3" cy="3388.8" r="17.8" fill="#00B0F0"/>
<circle cx="1139.9" cy="3383.9" r="17.8" fill="#00B0F0"/>
<circle cx="1194.4" cy="3377.6" r="17.8" fill="#00B0F0"/>
<circle cx="1249" cy="3382.1" r="17.8" fill="#00B0F0"/>
<circle cx="1303.6" cy="3385" r="17.8" fill="#00B0F0"/>
<circle cx="1358.2" cy="3391.4" r="17.8" fill="#00B0F0"/>
<circle cx="1412.7" cy="3398" r="17.8" fill="#00B0F0"/>
<circle cx="1467.3" cy="3392.5" r="17.8" fill="#00B0F0"/>
<circle cx="1521.9" cy="3387.6" r="17.8" fill="#00B0F0"/>
<circle cx="1576.5" cy="3392" r="17.8" fill="#00B0F0"/>
<circle cx="1631" cy="3396.9" r="17.8" fill="#00B0F0"/>
<circle cx="1685.6" cy="3398" r="17.8" fill="#00B0F0"/>
<circle cx="1740.2" cy="3401.7" r="17.8" fill="#00B0F0"/>
<circle cx="1794.8" cy="3398" r="17.8" fill="#00B0F0"/>
<circle cx="1849.3" cy="3398" r="17.8" fill="#00B0F0"/>
</g>
<line x1="1443.4" y1="60.1" x2="1593" y2="60.1" stroke="#ED7D31" stroke-width="8" stroke-linecap="round"/>
<path d="M1517.5 47.4L1529.1 71.5L1505.9 71.5Z" fill="#ED7D31" stroke="#ED7D31" stroke-width="5.2" stroke-linejoin="round"/>
<line x1="1443.4" y1="149.9" x2="1593" y2="149.9" stroke="#FFC000" stroke-width="8" stroke-linecap="round"/>
<rect x="1499.1" y="131" width="36.8" height="36.8" rx="2.5" fill="#FFC000"/>
<line x1="1443.4" y1="239.7" x2="1593" y2="239.7" stroke="#70AD47" stroke-width="8" stroke-linecap="round"/>
<path d="M1502.8 224.9L1532.2 254.4M1502.8 254.4L1532.2 224.9" fill="none" stroke="#70AD47" stroke-width="4"/>
<line x1="1443.4" y1="328.8" x2="1593" y2="328.8" stroke="#00B0F0" stroke-width="8" stroke-linecap="round"/>
<circle cx="1517.5" cy="328.8" r="17" fill="#00B0F0"/>
<text font-size="83.4" text-anchor="end" transform="translate(290.5 134.7) scale(1 1.013)">2000</text>
<text font-size="83.4" text-anchor="end" transform="translate(290.5 296.1) scale(1 1.013)">1500</text>
<text font-size="83.4" text-anchor="end" transform="translate(290.5 457.5) scale(1 1.013)">1000</text>
<text font-size="83.4" text-anchor="end" transform="translate(290.5 619) scale(1 1.013)">500</text>
<text font-size="83.4" text-anchor="end" transform="translate(290.5 780.4) scale(1 1.013)">0</text>
<text font-size="83.4" text-anchor="end" transform="translate(290.5 941.8) scale(1 1.013)">-500</text>
<text font-size="83.4" text-anchor="end" transform="translate(287 1464.8) scale(1 1.013)">2000</text>
<text font-size="83.4" text-anchor="end" transform="translate(287 1627.2) scale(1 1.013)">1500</text>
<text font-size="83.4" text-anchor="end" transform="translate(287 1789.6) scale(1 1.013)">1000</text>
<text font-size="83.4" text-anchor="end" transform="translate(287 1951.9) scale(1 1.013)">500</text>
<text font-size="83.4" text-anchor="end" transform="translate(287 2114.3) scale(1 1.013)">0</text>
<text font-size="83.4" text-anchor="end" transform="translate(287 2276.7) scale(1 1.013)">-500</text>
<text font-size="83.4" text-anchor="end" transform="translate(306.5 2673.7) scale(1 1.013)">2000</text>
<text font-size="83.4" text-anchor="end" transform="translate(306.5 2861.2) scale(1 1.013)">1500</text>
<text font-size="83.4" text-anchor="end" transform="translate(306.5 3048.7) scale(1 1.013)">1000</text>
<text font-size="83.4" text-anchor="end" transform="translate(306.5 3236.2) scale(1 1.013)">500</text>
<text font-size="83.4" text-anchor="end" transform="translate(306.5 3423.7) scale(1 1.013)">0</text>
<text font-size="83.4" text-anchor="end" transform="translate(306.5 3611.2) scale(1 1.013)">-500</text>
<text font-size="83.4" text-anchor="middle" transform="translate(359.9 878.1) scale(1 1.013)">0</text>
<text font-size="83.4" text-anchor="middle" transform="translate(469.6 878.1) scale(1 1.013)">2</text>
<text font-size="83.4" text-anchor="middle" transform="translate(579.3 878.1) scale(1 1.013)">4</text>
<text font-size="83.4" text-anchor="middle" transform="translate(689.1 878.1) scale(1 1.013)">6</text>
<text font-size="83.4" text-anchor="middle" transform="translate(798.8 878.1) scale(1 1.013)">8</text>
<text font-size="83.4" text-anchor="middle" transform="translate(908.5 878.1) scale(1 1.013)">10</text>
<text font-size="83.4" text-anchor="middle" transform="translate(1018.2 878.1) scale(1 1.013)">12</text>
<text font-size="83.4" text-anchor="middle" transform="translate(1127.9 878.1) scale(1 1.013)">14</text>
<text font-size="83.4" text-anchor="middle" transform="translate(1237.7 878.1) scale(1 1.013)">16</text>
<text font-size="83.4" text-anchor="middle" transform="translate(1347.4 878.1) scale(1 1.013)">18</text>
<text font-size="83.4" text-anchor="middle" transform="translate(1457.1 878.1) scale(1 1.013)">20</text>
<text font-size="83.4" text-anchor="middle" transform="translate(1566.8 878.1) scale(1 1.013)">22</text>
<text font-size="83.4" text-anchor="middle" transform="translate(1676.5 878.1) scale(1 1.013)">24</text>
<text font-size="83.4" text-anchor="middle" transform="translate(1786.3 878.1) scale(1 1.013)">26</text>
<text font-size="83.4" text-anchor="middle" transform="translate(1896 878.1) scale(1 1.013)">28</text>
<text font-size="83.4" text-anchor="middle" transform="translate(359.3 2210.5) scale(1 1.013)">0</text>
<text font-size="83.4" text-anchor="middle" transform="translate(469.4 2210.5) scale(1 1.013)">2</text>
<text font-size="83.4" text-anchor="middle" transform="translate(579.6 2210.5) scale(1 1.013)">4</text>
<text font-size="83.4" text-anchor="middle" transform="translate(689.7 2210.5) scale(1 1.013)">6</text>
<text font-size="83.4" text-anchor="middle" transform="translate(799.9 2210.5) scale(1 1.013)">8</text>
<text font-size="83.4" text-anchor="middle" transform="translate(910 2210.5) scale(1 1.013)">10</text>
<text font-size="83.4" text-anchor="middle" transform="translate(1020.1 2210.5) scale(1 1.013)">12</text>
<text font-size="83.4" text-anchor="middle" transform="translate(1130.3 2210.5) scale(1 1.013)">14</text>
<text font-size="83.4" text-anchor="middle" transform="translate(1240.4 2210.5) scale(1 1.013)">16</text>
<text font-size="83.4" text-anchor="middle" transform="translate(1350.6 2210.5) scale(1 1.013)">18</text>
<text font-size="83.4" text-anchor="middle" transform="translate(1460.7 2210.5) scale(1 1.013)">20</text>
<text font-size="83.4" text-anchor="middle" transform="translate(1570.8 2210.5) scale(1 1.013)">22</text>
<text font-size="83.4" text-anchor="middle" transform="translate(1681 2210.5) scale(1 1.013)">24</text>
<text font-size="83.4" text-anchor="middle" transform="translate(1791.1 2210.5) scale(1 1.013)">26</text>
<text font-size="83.4" text-anchor="middle" transform="translate(1901.3 2210.5) scale(1 1.013)">28</text>
<text font-size="83.4" text-anchor="middle" transform="translate(376 3519.5) scale(1 1.013)">0</text>
<text font-size="83.4" text-anchor="middle" transform="translate(485 3519.5) scale(1 1.013)">2</text>
<text font-size="83.4" text-anchor="middle" transform="translate(594 3519.5) scale(1 1.013)">4</text>
<text font-size="83.4" text-anchor="middle" transform="translate(702.9 3519.5) scale(1 1.013)">6</text>
<text font-size="83.4" text-anchor="middle" transform="translate(811.9 3519.5) scale(1 1.013)">8</text>
<text font-size="83.4" text-anchor="middle" transform="translate(920.9 3519.5) scale(1 1.013)">10</text>
<text font-size="83.4" text-anchor="middle" transform="translate(1029.9 3519.5) scale(1 1.013)">12</text>
<text font-size="83.4" text-anchor="middle" transform="translate(1138.9 3519.5) scale(1 1.013)">14</text>
<text font-size="83.4" text-anchor="middle" transform="translate(1247.8 3519.5) scale(1 1.013)">16</text>
<text font-size="83.4" text-anchor="middle" transform="translate(1356.8 3519.5) scale(1 1.013)">18</text>
<text font-size="83.4" text-anchor="middle" transform="translate(1465.8 3519.5) scale(1 1.013)">20</text>
<text font-size="83.4" text-anchor="middle" transform="translate(1574.8 3519.5) scale(1 1.013)">22</text>
<text font-size="83.4" text-anchor="middle" transform="translate(1683.8 3519.5) scale(1 1.013)">24</text>
<text font-size="83.4" text-anchor="middle" transform="translate(1792.7 3519.5) scale(1 1.013)">26</text>
<text font-size="83.4" text-anchor="middle" transform="translate(1901.7 3519.5) scale(1 1.013)">28</text>
<text font-size="99" transform="translate(402.2 211.9) scale(1 1)">(A)</text>
<text font-size="99" transform="translate(425.9 1559.3) scale(1 1)">(B)</text>
<text font-size="99" transform="translate(446.9 2762.9) scale(1 1)">(C)</text>
<text font-size="83" transform="translate(83.1 810) rotate(-90) scale(1 1)" letter-spacing="-0.2">ng N<tspan font-size="53" dy="19.3">2</tspan><tspan dy="-19.3">O g</tspan><tspan font-size="55" dy="-25.3">-1</tspan><tspan dy="25.3"> dry soil</tspan></text>
<text font-size="83" transform="translate(92.1 2126) rotate(-90) scale(1 1)" letter-spacing="-0.2">ng N<tspan font-size="53" dy="19.3">2</tspan><tspan dy="-19.3">O g</tspan><tspan font-size="55" dy="-25.3">-1</tspan><tspan dy="25.3"> dry soil</tspan></text>
<text font-size="83" transform="translate(121 3395) rotate(-90) scale(1 1)" letter-spacing="-0.2">ng N<tspan font-size="53" dy="19.3">2</tspan><tspan dy="-19.3">O g</tspan><tspan font-size="55" dy="-25.3">-1</tspan><tspan dy="25.3"> dry soil</tspan></text>
<text font-size="82.9" transform="translate(782.9 3720) scale(1 1)" letter-spacing="-0.2">Incubation time (day)</text>
<text font-size="83.4" transform="translate(1607.5 84.8) scale(1 1.013)">25 °C</text>
<text font-size="83.4" transform="translate(1607.5 175) scale(1 1.013)">30 °C</text>
<text font-size="83.4" transform="translate(1607.5 265) scale(1 1.013)">35 °C</text>
<text font-size="83.4" transform="translate(1607.5 354.2) scale(1 1.013)">40 °C</text>
</svg>
</body>
</html>
